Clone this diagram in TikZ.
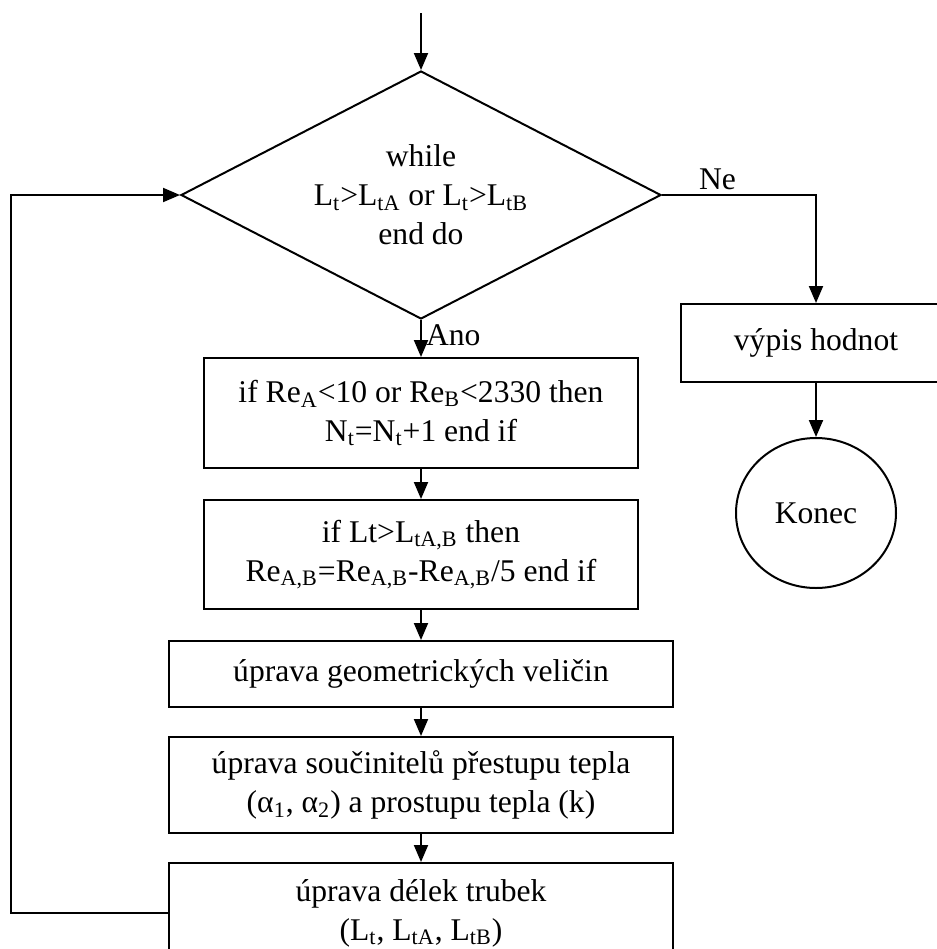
\documentclass[tikz,border=0pt]{standalone}
\usepackage{fontspec}
\setmainfont{Liberation Serif}
\usetikzlibrary{shapes.geometric,arrows.meta}

\begin{document}
\begin{tikzpicture}[x=0.5pt,y=-0.5pt,line width=1pt,
		font=\fontsize{15.8}{19.5}\selectfont,
		>={Triangle[length=8.5pt,width=7pt]},
		box/.style={draw,rectangle,align=center,inner sep=0pt},
		decision/.style={draw,diamond,shape aspect=1.94,align=center,inner sep=0pt,minimum width=240pt,minimum height=124pt},
		finish/.style={draw,ellipse,inner sep=0pt,minimum width=80pt,minimum height=75pt}]
	\useasboundingbox (0,0) rectangle (937,949);
	\clip (0,0) rectangle (937,949);
	% main loop
	\coordinate (start) at (421,13);
	\coordinate (loop) at (11,0);
	\node[decision] (while) at (421,195) {while\\L\textsubscript{t}>L\textsubscript{tA} or L\textsubscript{t}>L\textsubscript{tB}\\end do};
	\node[box,minimum width=217pt,minimum height=55pt] (cond) at (421,413) {if Re\textsubscript{A}<10 or Re\textsubscript{B}<2330 then\\N\textsubscript{t}=N\textsubscript{t}+1 end if};
	\node[box,minimum width=217pt,minimum height=54.5pt] (re) at (421,554.5) {if Lt>L\textsubscript{tA,B} then\\Re\textsubscript{A,B}=Re\textsubscript{A,B}-Re\textsubscript{A,B}/5 end if};
	\node[box,minimum width=252pt,minimum height=33pt] (geom) at (421,674) {úprava geometrických veličin};
	\node[box,minimum width=252pt,minimum height=48pt] (alpha) at (421,785) {úprava součinitelů přestupu tepla\\(α\textsubscript{1}, α\textsubscript{2}) a prostupu tepla (k)};
	\node[box,minimum width=252pt,minimum height=50pt] (length) at (421,913) {úprava délek trubek\\(L\textsubscript{t}, L\textsubscript{tA}, L\textsubscript{tB})};
	% exit
	\node[box,minimum width=135pt,minimum height=39pt] (out) at (816,343) {výpis hodnot};
	\node[finish] (end) at (816,513) {Konec};

	\draw[->] (start) -- (while.north);
	\draw[->] (while.south) -- node[pos=0.4,right,inner sep=2pt] {Ano} (cond.north);
	\draw[->] (cond) -- (re);
	\draw[->] (re) -- (geom);
	\draw[->] (geom) -- (alpha);
	\draw[->] (alpha) -- (length);
	\draw[->] (length.west) -- (length.west -| loop) -- (loop |- while.west) -- (while.west);
	\draw[->] (while.east) -| node[pos=0.18,above,inner sep=2pt] {Ne} (out.north);
	\draw[->] (out) -- (end);
\end{tikzpicture}
\end{document}
